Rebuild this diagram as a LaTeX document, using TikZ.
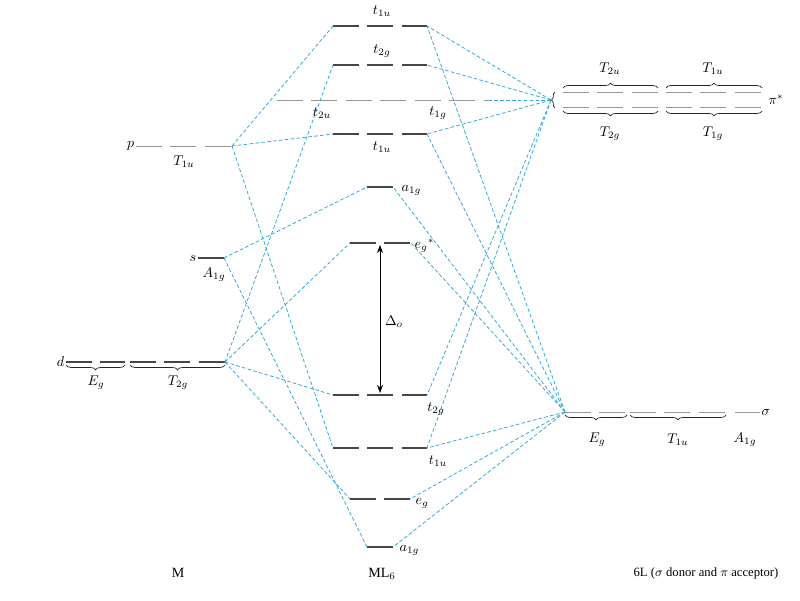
\documentclass[tikz,border=0pt]{standalone}
\usepackage{fontspec}
\setmainfont{Liberation Serif}
\usepackage{amsmath}
\usepackage{tikz}
\usetikzlibrary{arrows.meta,decorations.pathreplacing}
\definecolor{mocyan}{RGB}{45,170,212}
\definecolor{modark}{RGB}{70,70,70}
\definecolor{molight}{RGB}{150,150,150}
\tikzset{
  lvl/.style  ={draw=modark, line width=0.85pt, dash pattern=on 18.5pt off 6pt},
  lvlm/.style ={lvl, draw=molight, line width=0.7pt},
  link/.style ={draw=mocyan, line width=0.55pt, dash pattern=on 2.6pt off 1.6pt},
  brc/.style  ={decorate, decoration={brace, amplitude=3.5pt}, draw=black!85, line width=0.5pt},
  lab/.style  ={font=\normalsize, inner sep=1pt},
  bot/.style  ={font=\normalsize}
}
% one energy level: name, x from, x to, height
\newcommand{\lev}[5][lvl]{\draw[#1] (#3,#5) coordinate (#2-l) -- (#4,#5) coordinate (#2-r);}

\begin{document}
\begin{tikzpicture}[x=0.025cm, y=-0.025cm]
\useasboundingbox (0,0) rectangle (800,600);

% metal levels
\lev[lvlm]{p}{136}{232}{146}
\lev[lvl, solid]{s}{198}{224}{258}
\lev{dE}{66}{125}{362}
\lev{dT}{130}{225}{362}

% complex levels
\lev{tua}{333}{427}{26}
\lev{tga}{333}{427}{65}
\lev[lvlm]{nb}{277}{490}{100}
\lev{tub}{333}{427}{134}
\lev[lvl, solid]{aga}{367}{393}{187}
\lev{egs}{350}{411}{243}
\lev{tgb}{333}{427}{395}
\lev{tuc}{333}{427}{448}
\lev{egb}{350}{410}{499}
\lev[lvl, solid]{agb}{367}{393}{547}

% ligand levels
\lev[lvlm]{piA}{563}{658}{92}
\lev[lvlm]{piB}{666}{762}{92}
\lev[lvlm]{piC}{563}{658}{107}
\lev[lvlm]{piD}{666}{762}{107}
\coordinate (pis) at (551,100);
\lev[lvlm]{sE}{565}{627}{412}
\lev[lvlm]{sT}{630}{726}{412}
\lev[lvlm, solid]{sA}{735}{760}{412}

% braces
\draw[brc] (125,365) -- (66,365);
\draw[brc] (225,365) -- (130,365);
\draw[brc, decoration={amplitude=2.5pt}] (555,108) -- (555,92);
\draw[brc] (563,88) -- (658,88);
\draw[brc] (666,88) -- (762,88);
\draw[brc] (658,111) -- (563,111);
\draw[brc] (762,111) -- (666,111);
\draw[brc] (627,415) -- (565,415);
\draw[brc] (726,415) -- (630,415);

% correlation lines
\foreach \a/\b in {p-r/tua-l, p-r/tub-l, p-r/tuc-l,
                   s-r/aga-l, s-r/agb-l,
                   dT-r/tga-l, dT-r/egs-l, dT-r/tgb-l, dT-r/egb-l,
                   pis/tua-r, pis/tga-r, pis/nb-r, pis/tub-r, pis/tgb-r, pis/tuc-r,
                   sE-l/tua-r, sE-l/tub-r, sE-l/aga-r, sE-l/egs-r,
                   sE-l/tuc-r, sE-l/egb-r, sE-l/agb-r}
  \draw[link] (\a) -- (\b);

% splitting
\draw[{Stealth[length=2mm]}-{Stealth[length=2mm]}, line width=0.5pt] (380,245) -- (380,393);
\node[lab] (delta) at (394,322) {$\Delta_o$};

% labels, metal
\node[lab, anchor=east] (lp) at (p-l) {$p$};
\node[lab] (lT1u) at (184,162) {$T_{1u}$};
\node[lab, anchor=east] (ls) at (s-l) {$s$};
\node[lab] (lA1g) at (214,275) {$A_{1g}$};
\node[lab, anchor=east] (ld) at (dE-l) {$d$};
\node[lab] (lEg) at (96,383) {$E_g$};
\node[lab] (lT2g) at (178,383) {$T_{2g}$};

% labels, complex
\node[lab] (ltua) at (382,11) {$t_{1u}$};
\node[lab] (ltga) at (382,51) {$t_{2g}$};
\node[lab] (ltu) at (322,113) {$t_{2u}$};
\node[lab] (ltg) at (438,113) {$t_{1g}$};
\node[lab] (ltub) at (382,147) {$t_{1u}$};
\node[lab, anchor=west] (laga) at (400,190) {$a_{1g}$};
\node[lab, anchor=west] (legs) at (413,246) {$e_g{}^*$};
\node[lab] (ltgb) at (436,409) {$t_{2g}$};
\node[lab] (ltuc) at (438,461) {$t_{1u}$};
\node[lab, anchor=west] (legb) at (414,503) {$e_g$};
\node[lab, anchor=west] (lagb) at (398,550) {$a_{1g}$};

% labels, ligands
\node[lab] (lT2u) at (610,69) {$T_{2u}$};
\node[lab] (lT1ub) at (713,69) {$T_{1u}$};
\node[lab] (lT2gb) at (610,134) {$T_{2g}$};
\node[lab] (lT1g) at (713,134) {$T_{1g}$};
\node[lab, anchor=west] (lpi) at (767,100) {$\pi^*$};
\node[lab] (lEgb) at (597,440) {$E_g$};
\node[lab] (lT1uc) at (678,440) {$T_{1u}$};
\node[lab] (lA1gb) at (745,440) {$A_{1g}$};
\node[lab, anchor=west] (lsig) at (sA-r) {$\sigma$};

% column titles
\node[bot] (tM) at (178,573) {M};
\node[bot] (tML) at (382,574) {ML$_6$};
\node[bot, font=\small] (tL) at (706,573) {6L ($\sigma$ donor and $\pi$ acceptor)};
\end{tikzpicture}
\end{document}
